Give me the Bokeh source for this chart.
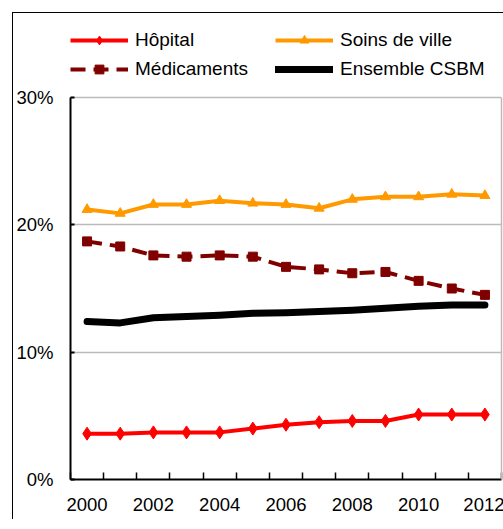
import math
from bokeh.plotting import figure
from bokeh.models import (FixedTicker, Legend, LegendItem, ColumnDataSource,
                          InlineStyleSheet, LinearAxis)
from bokeh.embed import file_html
from bokeh.resources import INLINE

years = [2000, 2001, 2002, 2003, 2004, 2005, 2006, 2007, 2008, 2009, 2010, 2011, 2012]
hopital = [3.6, 3.6, 3.7, 3.7, 3.7, 4.0, 4.3, 4.5, 4.6, 4.6, 5.1, 5.1, 5.1]
soins_de_ville = [21.2, 20.9, 21.6, 21.6, 21.9, 21.7, 21.6, 21.3, 22.0, 22.2, 22.2, 22.4, 22.3]
medicaments = [18.7, 18.3, 17.6, 17.5, 17.6, 17.5, 16.7, 16.5, 16.2, 16.3, 15.6, 15.0, 14.5]
ensemble_csbm = [12.4, 12.3, 12.7, 12.8, 12.9, 13.05, 13.1, 13.2, 13.3, 13.45, 13.6, 13.7, 13.7]

x_label_years = [2000, 2002, 2004, 2006, 2008, 2010, 2012]
y_ticks = [0, 10, 20, 30]
y_tick_labels = ["0%", "10%", "20%", "30%"]

FONT = "Liberation Sans"

# plot area (0-30 %) is 382 px tall; the frame extends higher to hold the legend
Y_MAX = y_ticks[-1]
FRAME_H = 459
PLOT_H = 382
y_end = Y_MAX * FRAME_H / PLOT_H

p = figure(frame_width=431, frame_height=FRAME_H,
           x_range=(years[0] - 0.5, years[-1] + 0.5), y_range=(0, y_end),
           min_border_left=55, min_border_right=3, min_border_top=7, min_border_bottom=40,
           output_backend="svg", toolbar_location=None)
p.stylesheets = [InlineStyleSheet(css=":host { margin-left: 12px; margin-top: 12px; "
                                      "border-left: 1px solid black; border-top: 1px solid black; }")]

p.background_fill_color = "white"
p.border_fill_color = "white"
p.outline_line_color = None

xt = FixedTicker(ticks=x_label_years,
                 minor_ticks=[y - 0.5 for y in years] + [years[-1] + 0.5])
p.xaxis.ticker = xt
p.xaxis.major_tick_in = 0
p.xaxis.major_tick_out = 0
p.xaxis.minor_tick_in = 7
p.xaxis.minor_tick_out = 0
p.xaxis.minor_tick_line_color = "black"
p.xaxis.minor_tick_line_width = 1.5
p.xaxis.axis_line_color = "black"
p.xaxis.axis_line_width = 2
p.xaxis.major_label_text_font = FONT
p.xaxis.major_label_text_font_size = "18.5px"
p.xaxis.major_label_text_color = "black"
p.xaxis.major_label_standoff = 18

p.yaxis.ticker = FixedTicker(ticks=y_ticks, minor_ticks=[])
p.yaxis.bounds = (0, Y_MAX)
p.yaxis.major_label_overrides = {t: l for t, l in zip(y_ticks, y_tick_labels)}
p.yaxis.major_tick_in = 4
p.yaxis.major_tick_out = 0
p.yaxis.major_tick_line_color = "black"
p.yaxis.major_tick_line_width = 2
p.yaxis.axis_line_color = "black"
p.yaxis.axis_line_width = 2
p.yaxis.major_label_text_font = FONT
p.yaxis.major_label_text_font_size = "18.5px"
p.yaxis.major_label_text_color = "black"
p.yaxis.major_label_standoff = 17

# right border of the plot area (grey), only from 0 to 30 %
right_axis = LinearAxis(ticker=FixedTicker(ticks=[], minor_ticks=[]), bounds=(0, Y_MAX),
                        axis_line_color="#BBBBBB", axis_line_width=1.5,
                        major_tick_in=0, major_tick_out=0, minor_tick_in=0, minor_tick_out=0,
                        major_label_standoff=0)
p.add_layout(right_axis, "right")

p.xgrid.grid_line_color = None
p.ygrid.ticker = FixedTicker(ticks=y_ticks)
p.ygrid.grid_line_color = "#BBBBBB"
p.ygrid.grid_line_width = 1.5

src = ColumnDataSource(dict(x=years, h=hopital, s=soins_de_ville,
                            m=medicaments, c=ensemble_csbm))

l_h = p.line("x", "h", source=src, line_color="#FF0000", line_width=4, line_join="round")
m_h = p.scatter("x", "h", source=src, marker="diamond", size=13,
                fill_color="#FF0000", line_color="#FF0000")

l_s = p.line("x", "s", source=src, line_color="#FF9900", line_width=4, line_join="round")
m_s = p.scatter("x", "s", source=src, marker="triangle", size=10,
                fill_color="#FF9900", line_color="#FF9900")

l_m = p.line("x", "m", source=src, line_color="#800000", line_width=4,
             line_dash="15 8", line_join="round")
m_m = p.scatter("x", "m", source=src, marker="square", size=9,
                fill_color="#800000", line_color="#800000")

l_c = p.line("x", "c", source=src, line_color="black", line_width=7,
             line_join="round", line_cap="round")

legend = Legend(items=[
    LegendItem(label="Hôpital", renderers=[l_h, m_h]),
    LegendItem(label="Soins de ville", renderers=[l_s, m_s]),
    LegendItem(label="Médicaments", renderers=[l_m, m_m]),
    LegendItem(label="Ensemble CSBM", renderers=[l_c]),
], location=(0, 399), orientation="horizontal", ncols=2)
legend.padding = 0
legend.margin = 0
legend.border_line_color = None
legend.background_fill_alpha = 0
legend.glyph_width = 58
legend.glyph_height = 22
legend.label_height = 22
legend.label_width = 133
legend.label_standoff = 7
legend.spacing = 7
legend.label_text_font = FONT
legend.label_text_font_size = "19px"
legend.label_text_color = "black"
p.add_layout(legend, "center")

open("out.html", "w").write(file_html(p, INLINE))
